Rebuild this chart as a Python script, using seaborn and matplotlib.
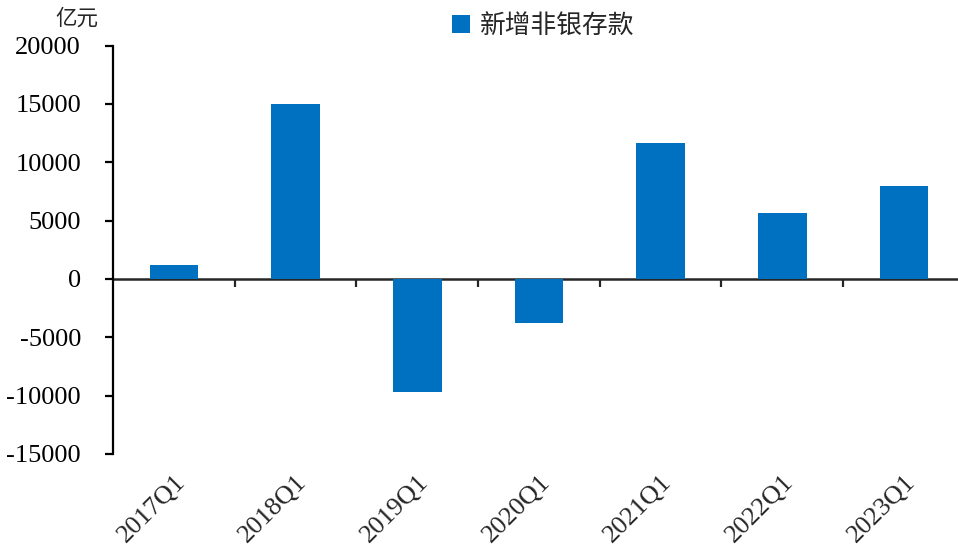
import matplotlib
matplotlib.use("Agg")
import matplotlib.pyplot as plt
import seaborn as sns
import pandas as pd

# 新增非银存款 (亿元), 每年一季度
quarters = ["2017Q1", "2018Q1", "2019Q1", "2020Q1", "2021Q1", "2022Q1", "2023Q1"]
values = [1170, 14950, -9650, -3740, 11650, 5680, 7930]
series_name = "新增非银存款"
unit_label = "亿元"
y_ticks = [-15000, -10000, -5000, 0, 5000, 10000, 15000, 20000]

sns.set_style("white")
plt.rcParams["font.family"] = ["Liberation Serif", "Noto Sans CJK SC"]

df = pd.DataFrame({"quarter": quarters, "value": values})

fig = plt.figure(figsize=(9.58, 5.49), dpi=100)
ax = fig.add_axes([113 / 958, 1 - 454 / 549, 1 - 113 / 958, (454 - 45.5) / 549])

sns.barplot(data=df, x="quarter", y="value", color="#0070C0", width=0.4,
            saturation=1, linewidth=0, ax=ax, label=series_name)

ax.set_ylim(-15000, 20000)
ax.set_xlim(-0.5, -0.5 + (958 - 113) / 121.7)
ax.set_yticks(y_ticks)
ax.set_yticklabels([str(v) for v in y_ticks])
ax.set_xlabel("")
ax.set_ylabel("")

for side in ["top", "right", "bottom"]:
    ax.spines[side].set_visible(False)
ax.spines["left"].set_linewidth(1.6)
ax.spines["left"].set_color("black")

ax.tick_params(axis="y", direction="out", length=6, width=1.6, pad=17,
               labelsize=19, left=True, colors="black")
ax.tick_params(axis="x", length=0, pad=12, labelsize=19)
for lab in ax.get_xticklabels():
    lab.set_rotation(45)
    lab.set_ha("right")
    lab.set_va("top")
    lab.set_rotation_mode("anchor")

# zero line with category-boundary ticks
zero_frac = 15000 / 35000
sec = ax.secondary_xaxis(zero_frac)
sec.spines["bottom"].set_linewidth(1.8)
sec.set_xticks([i + 0.5 for i in range(len(quarters))])
sec.tick_params(axis="x", direction="out", length=6, width=1.6, labelbottom=False)

fig.text(55 / 958, 1 - 19 / 549, unit_label, fontsize=15.5, va="center", ha="left")

ax.legend(loc="center", bbox_to_anchor=(0.567, 1 - 26 / 549),
          bbox_transform=fig.transFigure, frameon=False, fontsize=18.5,
          handlelength=0.7, handleheight=0.7, handletextpad=0.4)

fig.savefig("out.png", dpi=100)
